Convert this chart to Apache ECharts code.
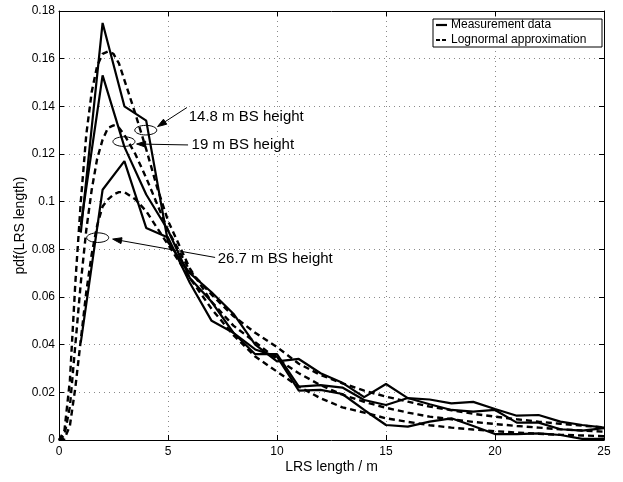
<!DOCTYPE html>
<html>
<head>
<meta charset="utf-8">
<script src="https://cdn.jsdelivr.net/npm/echarts@6/dist/echarts.min.js"></script>
<style>
  html, body { margin: 0; padding: 0; background: #fff; }
  #chart { width: 623px; height: 482px; }
</style>
</head>
<body>
<div id="chart"></div>
<script>
// Measured pdf of LRS length, 1 m bins
const measX = [1,2,3,4,5,6,7,8,9,10,11,12,13,14,15,16,17,18,19,20,21,22,23,24,25];
const meas148 = [0.087,0.175,0.140,0.134,0.083,0.070,0.062,0.053,0.040,0.033,0.034,0.028,0.024,0.018,0.0235,0.0176,0.017,0.0154,0.016,0.013,0.0102,0.0105,0.0077,0.0063,0.0052];
const meas19  = [0.090,0.153,0.123,0.103,0.088,0.068,0.058,0.045,0.036,0.036,0.0224,0.023,0.022,0.0168,0.0147,0.0176,0.015,0.0126,0.0119,0.0126,0.0073,0.0073,0.0045,0.0039,0.005];
const meas267 = [0.041,0.105,0.117,0.089,0.085,0.066,0.050,0.045,0.038,0.035,0.0207,0.021,0.0193,0.0126,0.0063,0.0056,0.0077,0.0091,0.0059,0.0025,0.0025,0.0028,0.0021,0.0005,0.0005];

// Lognormal approximations, sampled along x
const fitX = [0,0.25,0.5,0.75,1,1.25,1.5,1.75,2,2.25,2.5,2.75,3,3.5,4,4.5,5,6,7,8,9,10,11,12,13,14,15,16,17,18,19,20,21,22,23,24,25];
const fit148 = [0,0.004,0.025,0.066,0.100,0.128,0.146,0.157,0.162,0.163,0.162,0.158,0.151,0.137,0.122,0.106,0.092,0.072,0.058,0.048,0.041,0.034,0.028,0.023,0.019,0.016,0.0135,0.0115,0.0098,0.0087,0.0076,0.0067,0.0059,0.0052,0.0045,0.004,0.0035];
const fit19  = [0,0.002,0.014,0.040,0.066,0.088,0.105,0.118,0.126,0.131,0.132,0.131,0.128,0.120,0.110,0.099,0.088,0.071,0.061,0.052,0.045,0.039,0.032,0.0273,0.0238,0.0207,0.0182,0.0161,0.014,0.0125,0.011,0.0098,0.0087,0.0077,0.0068,0.006,0.0053];
const fit267 = [0,0.0005,0.006,0.022,0.042,0.062,0.078,0.090,0.098,0.101,0.103,0.104,0.104,0.101,0.096,0.089,0.082,0.068,0.055,0.044,0.035,0.0287,0.0224,0.0175,0.0137,0.0115,0.0091,0.0076,0.0062,0.0052,0.0044,0.0037,0.0031,0.0026,0.0022,0.0019,0.0016];

const xTicks = [0,5,10,15,20,25];
const yTicks = [0,0.02,0.04,0.06,0.08,0.1,0.12,0.14,0.16,0.18];

const legendNames = ['Measurement data', 'Lognormal approximation'];

// Annotations in data coordinates: ellipse centre, arrow tail/head, label anchor
const notes = [
  { text: '14.8 m BS height', ell: [3.98, 0.130], tail: [5.87, 0.1395], head: [4.52, 0.1315], label: [5.95, 0.1355] },
  { text: '19 m BS height',   ell: [2.98, 0.1252], tail: [5.92, 0.1238], head: [3.56, 0.1242], label: [6.08, 0.1238] },
  { text: '26.7 m BS height', ell: [1.775, 0.0849], tail: [7.16, 0.0766], head: [2.46, 0.0843], label: [7.28, 0.0762] }
];

const FONT = '"Liberation Sans", Arial, Helvetica, sans-serif';
const pairs = (xs, ys) => xs.map((x, i) => [x, ys[i]]);

const solid = { color: '#000', width: 2.2, type: 'solid' };
const dashed = { color: '#000', width: 2.4, type: [6, 4] };

function lineSeries(name, data, style) {
  return {
    name: name, type: 'line', data: data, symbol: 'none', smooth: false,
    lineStyle: style, itemStyle: { color: '#000' }, animation: false, z: 3
  };
}

const chart = echarts.init(document.getElementById('chart'), null, { renderer: 'canvas' });

function frameAxis(extra) {
  return Object.assign({
    axisLine: { show: true, onZero: false, lineStyle: { color: '#000', width: 1 } },
    axisTick: { show: true, inside: true, length: 5, lineStyle: { color: '#000' } }
  }, extra);
}

const gridDots = { show: true, lineStyle: { color: '#8a8a8a', width: 1, type: [1, 4] } };

chart.setOption({
  animation: false,
  backgroundColor: '#fff',
  textStyle: { fontFamily: FONT },
  grid: { left: 59, right: 19, top: 11, bottom: 42, containLabel: false },
  xAxis: [
    frameAxis({
      type: 'value', min: 0, max: 25, interval: 5, position: 'bottom',
      name: 'LRS length / m', nameLocation: 'middle', nameGap: 20, nameMoveOverlap: false,
      nameTextStyle: { fontFamily: FONT, fontSize: 14, color: '#000' },
      axisLabel: { fontFamily: FONT, fontSize: 12, color: '#000', margin: 6,
        formatter: v => xTicks.includes(v) ? String(v) : '' },
      splitLine: gridDots
    }),
    frameAxis({
      type: 'value', min: 0, max: 25, interval: 5, position: 'top',
      axisLabel: { show: false }, splitLine: { show: false }
    })
  ],
  yAxis: [
    frameAxis({
      type: 'value', min: 0, max: 0.18, interval: 0.02, position: 'left',
      name: 'pdf(LRS length)', nameLocation: 'middle', nameGap: 32, nameMoveOverlap: false,
      nameTextStyle: { fontFamily: FONT, fontSize: 14, color: '#000' },
      axisLabel: { fontFamily: FONT, fontSize: 12, color: '#000', margin: 4,
        formatter: v => {
          const t = yTicks.find(k => Math.abs(k - v) < 1e-9);
          return t === undefined ? '' : String(t);
        } },
      splitLine: gridDots
    }),
    frameAxis({
      type: 'value', min: 0, max: 0.18, interval: 0.02, position: 'right',
      axisLabel: { show: false }, splitLine: { show: false }
    })
  ],
  series: [
    lineSeries(legendNames[0], pairs(measX, meas148), solid),
    lineSeries(legendNames[0], pairs(measX, meas19), solid),
    lineSeries(legendNames[0], pairs(measX, meas267), solid),
    lineSeries(legendNames[1], pairs(fitX, fit148), dashed),
    lineSeries(legendNames[1], pairs(fitX, fit19), dashed),
    lineSeries(legendNames[1], pairs(fitX, fit267), dashed)
  ]
});

// Annotation ellipses, arrows and labels positioned through the axes
const px = p => chart.convertToPixel({ xAxisIndex: 0, yAxisIndex: 0 }, p);
const graphics = [];
notes.forEach(n => {
  const c = px(n.ell), t = px(n.tail), h = px(n.head), l = px(n.label);
  graphics.push({
    type: 'ellipse', shape: { cx: c[0], cy: c[1], rx: 11, ry: 4.8 },
    style: { fill: null, stroke: '#000', lineWidth: 1 }, z: 10
  });
  const ang = Math.atan2(h[1] - t[1], h[0] - t[0]);
  const len = 9, wid = 3;
  const bx = h[0] - len * Math.cos(ang), by = h[1] - len * Math.sin(ang);
  const nx = -Math.sin(ang) * wid, ny = Math.cos(ang) * wid;
  graphics.push({
    type: 'line', shape: { x1: t[0], y1: t[1], x2: bx, y2: by },
    style: { stroke: '#000', lineWidth: 1 }, z: 10
  });
  graphics.push({
    type: 'polygon', shape: { points: [[h[0], h[1]], [bx + nx, by + ny], [bx - nx, by - ny]] },
    style: { fill: '#000', stroke: '#000', lineWidth: 1 }, z: 10
  });
  graphics.push({
    type: 'text', x: l[0], y: l[1],
    style: { text: n.text, fill: '#000', font: '15px ' + FONT, textAlign: 'left', textVerticalAlign: 'middle' },
    z: 10
  });
});

// Boxed legend in the upper right corner of the plot
const legendBox = { x: 433, y: 19, w: 169, h: 28 };
const legendRows = [
  { name: legendNames[0], dash: null },
  { name: legendNames[1], dash: [4, 2] }
];
graphics.push({
  type: 'rect', shape: { x: legendBox.x, y: legendBox.y, width: legendBox.w, height: legendBox.h },
  style: { fill: '#fff', stroke: '#000', lineWidth: 1 }, z: 20
});
legendRows.forEach((r, i) => {
  const cy = legendBox.y + 6 + i * 15;
  graphics.push({
    type: 'line', shape: { x1: legendBox.x + 3, y1: cy, x2: legendBox.x + 14, y2: cy },
    style: { stroke: '#000', lineWidth: 2.2, lineDash: r.dash }, z: 21
  });
  graphics.push({
    type: 'text', x: legendBox.x + 18, y: cy,
    style: { text: r.name, fill: '#000', font: '12px ' + FONT, textAlign: 'left', textVerticalAlign: 'middle' },
    z: 21
  });
});
chart.setOption({ graphic: graphics });
</script>
</body>
</html>
